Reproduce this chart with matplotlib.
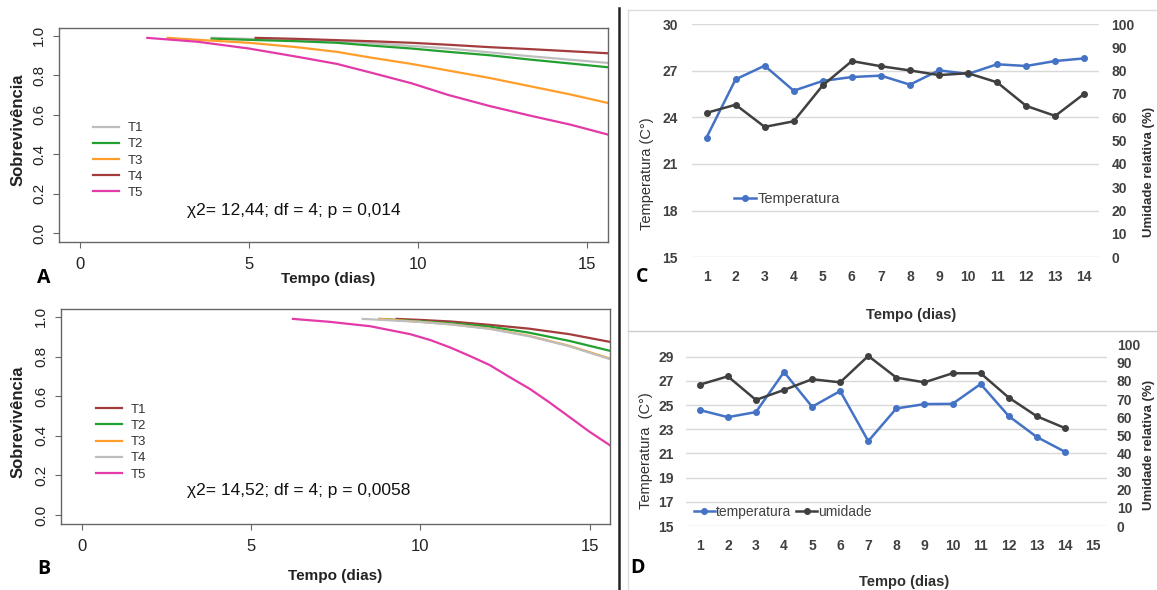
import matplotlib
matplotlib.use("Agg")
import matplotlib.pyplot as plt
from matplotlib.lines import Line2D

plt.rcParams['font.family'] = ['Liberation Sans', 'DejaVu Sans']

W, H = 1157, 590

# ---- dados: curvas de sobrevivência (painel A) ----
a_t1_x = [3.9, 5.0, 6.4, 7.6, 8.6, 10.9, 13.3, 15.6]
a_t1_y = [0.99, 0.985, 0.978, 0.972, 0.963, 0.936, 0.897, 0.863]
a_t2_x = [3.9, 5.0, 6.4, 7.6, 8.6, 9.8, 10.9, 12.1, 13.3, 14.5, 15.6]
a_t2_y = [0.986, 0.98, 0.973, 0.965, 0.951, 0.936, 0.919, 0.902, 0.88, 0.86, 0.841]
a_t3_x = [2.6, 3.5, 5.0, 6.4, 7.6, 8.6, 9.8, 10.9, 12.1, 13.3, 14.5, 15.6]
a_t3_y = [0.99, 0.98, 0.965, 0.943, 0.919, 0.89, 0.858, 0.824, 0.787, 0.745, 0.703, 0.66]
a_t4_x = [5.2, 6.4, 8.6, 9.8, 10.9, 12.1, 13.3, 14.5, 15.6]
a_t4_y = [0.99, 0.985, 0.973, 0.965, 0.955, 0.943, 0.933, 0.922, 0.912]
a_t5_x = [2.0, 3.5, 5.0, 6.4, 7.6, 8.6, 9.8, 10.9, 12.1, 13.3, 14.5, 15.6]
a_t5_y = [0.99, 0.97, 0.936, 0.895, 0.858, 0.814, 0.76, 0.70, 0.645, 0.596, 0.55, 0.5]

# ---- painel B ----
b_t1_x = [9.3, 10.0, 10.9, 12.05, 13.2, 14.4, 15.6]
b_t1_y = [0.99, 0.985, 0.977, 0.96, 0.941, 0.913, 0.874]
b_t2_x = [8.8, 10.0, 10.9, 12.05, 13.2, 14.4, 15.6]
b_t2_y = [0.99, 0.978, 0.968, 0.951, 0.921, 0.879, 0.829]
b_t3_x = [8.8, 10.0, 10.9, 12.05, 13.2, 14.4, 15.6]
b_t3_y = [0.99, 0.975, 0.963, 0.941, 0.905, 0.854, 0.79]
b_t4_x = [8.3, 10.0, 10.9, 12.05, 13.2, 14.4, 15.6]
b_t4_y = [0.99, 0.975, 0.962, 0.94, 0.903, 0.852, 0.787]
b_t5_x = [6.24, 7.34, 8.52, 9.7, 10.3, 10.88, 11.5, 12.05, 12.6, 13.23, 13.8, 14.41, 15.0, 15.6]
b_t5_y = [0.99, 0.975, 0.953, 0.913, 0.883, 0.846, 0.80, 0.757, 0.70, 0.637, 0.57, 0.494, 0.42, 0.352]

# ---- painel C: temperatura e umidade ----
c_dias = list(range(1, 15))
c_temp = [22.7, 26.44, 27.32, 25.71, 26.34, 26.59, 26.68, 26.1, 27.02, 26.79, 27.41, 27.3, 27.62, 27.79]
c_umid = [61.9, 65.4, 55.9, 58.3, 73.7, 84.1, 81.9, 80.1, 78.1, 78.9, 75.0, 64.9, 60.6, 70.1]

# ---- painel D ----
d_dias = list(range(1, 15))
d_temp = [24.59, 24.0, 24.42, 27.73, 24.86, 26.16, 22.02, 24.72, 25.08, 25.1, 26.74, 24.09, 22.36, 21.14]
d_umid = [77.9, 82.5, 69.5, 75.0, 80.9, 79.2, 93.75, 81.8, 79.2, 84.2, 84.2, 70.8, 60.5, 54.0]

cinza = '#BEBEBE'
verde = '#22A030'
laranja = '#FF9E2A'
marrom = '#A33C3C'
rosa = '#E33AA8'
azul = '#4472C4'
preto = '#404040'


def fx(x):
    return x / W


def fy(y):
    return 1 - y / H


def box(x0, y0, x1, y1):
    return [fx(x0), fy(y1), fx(x1) - fx(x0), fy(y0) - fy(y1)]


fig = plt.figure(figsize=(W / 100, H / 100), dpi=100)


def painel_km(pos, series, chi_txt, chi_y, leg_y, leg_x):
    ax = fig.add_axes(pos)
    for xs, ys, cor, nome in series:
        ax.plot(xs, ys, color=cor, lw=1.6, label=nome)
    ax.set_xlim(-0.6, 15.6)
    ax.set_ylim(-0.045, 1.04)
    ax.set_xticks([0, 5, 10, 15])
    ax.set_yticks([0.0, 0.2, 0.4, 0.6, 0.8, 1.0])
    ax.set_yticklabels(['0.0', '0.2', '0.4', '0.6', '0.8', '1.0'])
    for s in ax.spines.values():
        s.set_color('#666666')
        s.set_linewidth(1.0)
    ax.tick_params(direction='out', length=4.5, color='#666666', labelcolor='#222222')
    ax.tick_params(axis='x', labelsize=12, pad=6)
    ax.tick_params(axis='y', labelsize=11, pad=5, labelrotation=90)
    for lb in ax.get_yticklabels():
        lb.set_va('center')
    ax.legend(loc='center left', bbox_to_anchor=(fx(leg_x), fy(leg_y)),
              bbox_transform=fig.transFigure, frameon=False, fontsize=9.5,
              handlelength=2.0, handletextpad=0.6, labelspacing=0.3,
              borderpad=0, borderaxespad=0, labelcolor='#333333')
    fig.text(fx(187), fy(chi_y), chi_txt, fontsize=12.5, ha='left', va='center', color='#111111')
    return ax


ax_a = painel_km(box(59.3, 28, 607.7, 242),
                 [(a_t1_x, a_t1_y, cinza, 'T1'), (a_t2_x, a_t2_y, verde, 'T2'),
                  (a_t3_x, a_t3_y, laranja, 'T3'), (a_t4_x, a_t4_y, marrom, 'T4'),
                  (a_t5_x, a_t5_y, rosa, 'T5')],
                 'χ2= 12,44; df = 4; p = 0,014', 211, 160.5, 93)
ax_b = painel_km(box(61.3, 309, 610, 524),
                 [(b_t1_x, b_t1_y, marrom, 'T1'), (b_t2_x, b_t2_y, verde, 'T2'),
                  (b_t3_x, b_t3_y, laranja, 'T3'), (b_t4_x, b_t4_y, cinza, 'T4'),
                  (b_t5_x, b_t5_y, rosa, 'T5')],
                 'χ2= 14,52; df = 4; p = 0,0058', 490, 442, 96)

fig.text(fx(18), fy(130), 'Sobrevivência', rotation=90, fontsize=12, fontweight='bold',
         ha='center', va='center', color='#222222')
fig.text(fx(18), fy(422), 'Sobrevivência', rotation=90, fontsize=12, fontweight='bold',
         ha='center', va='center', color='#222222')
fig.text(fx(328), fy(279), 'Tempo (dias)', fontsize=11, fontweight='bold', ha='center', va='center', color='#222222')
fig.text(fx(335), fy(576), 'Tempo (dias)', fontsize=11, fontweight='bold', ha='center', va='center', color='#222222')


def painel_excel(pos, dias, temp, umid, xlim, xticks, ylim, yticks, pad_l, pad_r):
    ax = fig.add_axes(pos)
    ax.plot(dias, temp, color=azul, lw=1.8, marker='o', markersize=4, label='temperatura')
    ax.set_xlim(*xlim)
    ax.set_ylim(*ylim)
    ax.set_xticks(xticks)
    ax.set_yticks(yticks)
    ax.grid(axis='y', color='#D9D9D9', lw=1)
    ax.set_axisbelow(True)
    for s in ax.spines.values():
        s.set_visible(False)
    ax.tick_params(length=0, labelsize=10, colors='#404040')
    ax.tick_params(axis='y', pad=pad_l)
    ax.tick_params(axis='x', pad=9)
    for lb in ax.get_xticklabels() + ax.get_yticklabels():
        lb.set_fontweight('bold')
    ax2 = ax.twinx()
    ax2.plot(dias, umid, color=preto, lw=1.8, marker='o', markersize=4, label='umidade')
    ax2.set_ylim(0, 100)
    ax2.set_yticks(range(0, 101, 10))
    for s in ax2.spines.values():
        s.set_visible(False)
    ax2.tick_params(length=0, labelsize=10, colors='#404040', pad=pad_r)
    for lb in ax2.get_yticklabels():
        lb.set_fontweight('bold')
    return ax, ax2


ax_c, ax_c2 = painel_excel(box(692, 24, 1098.8, 257.3), c_dias, c_temp, c_umid,
                           (0.5, 14.5), c_dias, (15, 30), range(15, 31, 3), 10, 9)
ax_c.legend(loc='center left', bbox_to_anchor=(fx(734), fy(199)), bbox_transform=fig.transFigure,
            frameon=False, fontsize=10.5, handlelength=1.5, handletextpad=0.1,
            borderpad=0, borderaxespad=0, labelcolor='#404040')
ax_c.get_legend().get_texts()[0].set_text('Temperatura')

ax_d, ax_d2 = painel_excel(box(685.7, 344.6, 1107, 526), d_dias, d_temp, d_umid,
                           (0.5, 15.5), range(1, 16), (15, 30), range(15, 30, 2), 8.5, 7)
h1, l1 = ax_d.get_legend_handles_labels()
h2, l2 = ax_d2.get_legend_handles_labels()
ax_d.legend(h1 + h2, l1 + l2, loc='center left', bbox_to_anchor=(fx(694), fy(512)),
            bbox_transform=fig.transFigure, frameon=False, fontsize=10, ncol=2,
            handlelength=1.5, handletextpad=0.1, columnspacing=0.35,
            borderpad=0, borderaxespad=0, labelcolor='#404040')

fig.text(fx(647), fy(174), 'Temperatura (C°)', rotation=90, fontsize=10.5, ha='center', va='center', color='#303030')
fig.text(fx(646), fy(451), 'Temperatura  (C°)', rotation=90, fontsize=10.5, ha='center', va='center', color='#303030')
fig.text(fx(1149), fy(172), 'Umidade relativa (%)', rotation=90, fontsize=9.5, fontweight='bold',
         ha='center', va='center', color='#303030')
fig.text(fx(1149), fy(445), 'Umidade relativa (%)', rotation=90, fontsize=9.5, fontweight='bold',
         ha='center', va='center', color='#303030')
fig.text(fx(911), fy(315), 'Tempo (dias)', fontsize=10.5, fontweight='bold', ha='center', va='center', color='#303030')
fig.text(fx(904), fy(582), 'Tempo (dias)', fontsize=10.5, fontweight='bold', ha='center', va='center', color='#303030')

# letras dos painéis
for letra, x, y in [('A', 43.5, 278), ('B', 43.5, 569), ('C', 642, 277), ('D', 637, 568)]:
    fig.text(fx(x), fy(y), letra, fontsize=14, fontweight='bold', ha='center', va='center',
             family=['Open Sans', 'DejaVu Sans'], color='black')

# separadores
fig.add_artist(Line2D([fx(619), fx(619)], [fy(8), fy(590)], color='#222222', lw=1.8))
fig.add_artist(Line2D([fx(628), fx(1157)], [fy(10), fy(10)], color='#DDDDDD', lw=1))
fig.add_artist(Line2D([fx(628), fx(628)], [fy(10), fy(590)], color='#DDDDDD', lw=1))
fig.add_artist(Line2D([fx(628), fx(1157)], [fy(331), fy(331)], color='#CCCCCC', lw=1))

fig.savefig('out.png', dpi=100)
